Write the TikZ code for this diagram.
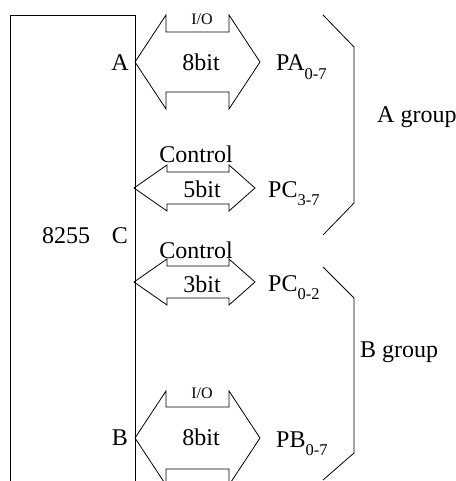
\documentclass[tikz,border=0pt]{standalone}
\usepackage{fontspec}
\setmainfont{Liberation Serif}
\begin{document}
\begin{tikzpicture}[x=1pt,y=-1pt,
  outline/.style={draw=black,line width=0.8pt,line join=miter},
  txt/.style={inner sep=0pt,font=\fontsize{24}{28}\selectfont},
  small/.style={inner sep=0pt,font=\fontsize{16}{19}\selectfont}]
\useasboundingbox (0,0) rectangle (455,481);
\clip (0,0) rectangle (455,481);
% notched two-way bus arrow: left tip x, notch x (left,right), right tip x, centre y, outer/inner half height
\newcommand\busarrow[7]{%
  \draw[outline] (#1,#5) -- (#2,#5-#6) -- (#2,#5-#7) -- (#3,#5-#7) -- (#3,#5-#6)
    -- (#4,#5) -- (#3,#5+#6) -- (#3,#5+#7) -- (#2,#5+#7) -- (#2,#5+#6) -- cycle;}
\newcommand\sbs[1]{\raisebox{-0.35em}{\fontsize{16.5}{19}\selectfont #1}}

% the 8255 chip body
\draw[outline] (10,495) -- (10,15) -- (135,15) -- (135,495);

% buses
\busarrow{135}{166}{229}{260}{62}{47}{30}
\busarrow{134}{167}{229}{255}{188}{23}{16}
\busarrow{134}{167}{229}{255}{282}{23}{16}
\busarrow{135}{166}{229}{260}{438}{47}{31}

% group brackets
\draw[outline] (323,15) -- (354,47) -- (354,203) -- (323,235);
\draw[outline] (323,267) -- (354,298) -- (354,453) -- (323,480);

% port labels on the chip
\node[txt,anchor=base east] (pa) at (129,71) {A};
\node[txt,anchor=base east] (pc) at (128,243) {C};
\node[txt,anchor=base east] (pb) at (128,445) {B};
\node[txt,anchor=base] (chip) at (66,243) {8255};

% bus labels
\node[small,anchor=base] (ioa) at (202,25) {I/O};
\node[txt,anchor=base] (wa) at (201,71) {8bit};
\node[txt,anchor=base] (ctla) at (196,163) {Control};
\node[txt,anchor=base] (wc1) at (202,197) {5bit};
\node[txt,anchor=base] (ctlb) at (196,258) {Control};
\node[txt,anchor=base] (wc2) at (202,292) {3bit};
\node[small,anchor=base] (iob) at (202,398) {I/O};
\node[txt,anchor=base] (wb) at (201,445) {8bit};

% external port lines
\node[txt,anchor=base west] (xa) at (276,71) {PA\sbs{0-7}};
\node[txt,anchor=base west] (xc1) at (268,197) {PC\sbs{3-7}};
\node[txt,anchor=base west] (xc2) at (268,291) {PC\sbs{0-2}};
\node[txt,anchor=base west] (xb) at (276,447) {PB\sbs{0-7}};

% group names
\node[txt,anchor=base west] (ga) at (377,123) {A group};
\node[txt,anchor=base west] (gb) at (360,357) {B group};
\end{tikzpicture}
\end{document}
